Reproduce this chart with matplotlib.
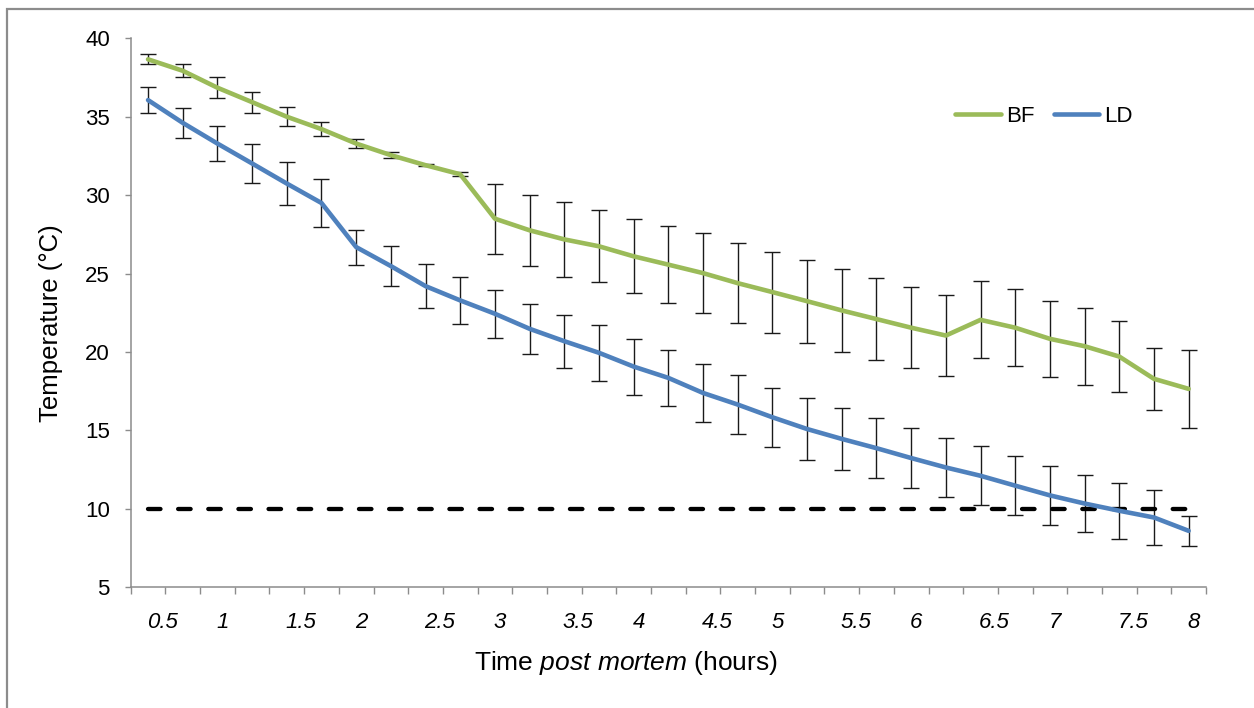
import matplotlib
matplotlib.use("Agg")
import matplotlib.pyplot as plt
from matplotlib.patches import Rectangle
from matplotlib.transforms import ScaledTranslation

# Sampling times (hours post mortem), every 15 minutes
hours = [0.5, 0.75, 1.0, 1.25, 1.5, 1.75, 2.0, 2.25, 2.5, 2.75, 3.0,
         3.25, 3.5, 3.75, 4.0, 4.25, 4.5, 4.75, 5.0, 5.25, 5.5, 5.75,
         6.0, 6.25, 6.5, 6.75, 7.0, 7.25, 7.5, 7.75, 8.0]

# BF muscle temperature (mean and SD, deg C)
bf_mean = [38.66, 37.93, 36.85, 35.93, 35.00, 34.21, 33.29, 32.55, 31.91,
           31.33, 28.50, 27.76, 27.18, 26.74, 26.10, 25.57, 25.03, 24.39,
           23.82, 23.24, 22.65, 22.10, 21.55, 21.05, 22.05, 21.55, 20.84,
           20.37, 19.71, 18.29, 17.65]
bf_err = [0.33, 0.40, 0.67, 0.67, 0.60, 0.47, 0.27, 0.18, 0.08, 0.13,
          2.22, 2.28, 2.40, 2.29, 2.36, 2.46, 2.53, 2.57, 2.58, 2.65,
          2.65, 2.60, 2.57, 2.58, 2.46, 2.46, 2.42, 2.45, 2.29, 1.97, 2.49]

# LD muscle temperature (mean and SD, deg C)
ld_mean = [36.06, 34.61, 33.29, 32.02, 30.74, 29.50, 26.69, 25.48, 24.20,
           23.29, 22.44, 21.48, 20.69, 19.95, 19.07, 18.35, 17.39, 16.65,
           15.84, 15.09, 14.46, 13.87, 13.24, 12.64, 12.11, 11.48, 10.86,
           10.34, 9.88, 9.45, 8.60]
ld_err = [0.85, 0.97, 1.12, 1.24, 1.38, 1.55, 1.12, 1.28, 1.40, 1.50,
          1.52, 1.60, 1.70, 1.77, 1.78, 1.76, 1.83, 1.87, 1.88, 1.96,
          1.98, 1.92, 1.90, 1.88, 1.87, 1.88, 1.87, 1.84, 1.80, 1.78, 0.95]

# 10 deg C reference temperature
threshold = 10
threshold_span = [0.5, 8.0]

tick_values = [0.5, 1, 1.5, 2, 2.5, 3, 3.5, 4, 4.5, 5, 5.5, 6, 6.5, 7, 7.5, 8]
tick_text = ["0.5", "1", "1.5", "2", "2.5", "3", "3.5", "4", "4.5", "5",
             "5.5", "6", "6.5", "7", "7.5", "8"]
y_ticks = [5, 10, 15, 20, 25, 30, 35, 40]

GREEN = "#9BBB59"
BLUE = "#4F81BD"
AXIS_GREY = "#8C8C8C"

plt.rcParams["font.family"] = ["Liberation Sans", "DejaVu Sans"]
plt.rcParams["mathtext.fontset"] = "custom"
plt.rcParams["mathtext.rm"] = "Liberation Sans"
plt.rcParams["mathtext.it"] = "Liberation Sans:italic"

W, H = 1254, 708
fig = plt.figure(figsize=(W / 100, H / 100), dpi=100)
ax = fig.add_axes([130.7 / W, 1 - 587.3 / H, (1206 - 130.7) / W, (587.3 - 38.3) / H])

step = hours[1] - hours[0]
ax.set_xlim(hours[0] - step / 2, hours[-1] + step / 2)
ax.set_ylim(5, 40)

ax.errorbar(hours, bf_mean, yerr=bf_err, fmt="none", ecolor="#1a1a1a",
            elinewidth=1.0, capsize=5.5, capthick=1.0, zorder=2)
ax.errorbar(hours, ld_mean, yerr=ld_err, fmt="none", ecolor="#1a1a1a",
            elinewidth=1.0, capsize=5.5, capthick=1.0, zorder=2)

ax.plot(threshold_span, [threshold, threshold], color="black", lw=3.1,
        dashes=(2.9, 4.1), dash_capstyle="round", zorder=2.5)

bf_line, = ax.plot(hours, bf_mean, color=GREEN, lw=3.3, zorder=3,
                   solid_capstyle="round", solid_joinstyle="round", label="BF")
ld_line, = ax.plot(hours, ld_mean, color=BLUE, lw=3.3, zorder=3,
                   solid_capstyle="round", solid_joinstyle="round", label="LD")

# Axes styling: only left and bottom spines, grey, with outward ticks
for side in ("top", "right"):
    ax.spines[side].set_visible(False)
for side in ("left", "bottom"):
    ax.spines[side].set_color(AXIS_GREY)
    ax.spines[side].set_linewidth(1.1)

ax.set_yticks(y_ticks)
ax.tick_params(axis="y", direction="out", length=4, width=1.0,
               color=AXIS_GREY, labelsize=16, pad=11, labelcolor="black")

# Category boundaries carry the tick marks on the time axis
boundaries = [h - step / 2 for h in hours] + [hours[-1] + step / 2]
ax.set_xticks(boundaries, minor=True)
ax.set_xticks(tick_values)
ax.set_xticklabels(tick_text, fontstyle="italic")
ax.tick_params(axis="x", which="minor", direction="out", length=5,
               width=1.0, color=AXIS_GREY)
ax.tick_params(axis="x", which="major", length=0, labelsize=16, pad=18,
               labelcolor="black")

for lab, txt in zip(ax.get_xticklabels(), tick_text):
    dx = 14.0 if "." in txt else 5.0
    lab.set_transform(lab.get_transform() +
                      ScaledTranslation(dx / 100, 0, fig.dpi_scale_trans))

# Axis titles
fig.text(626 / W, 1 - 663 / H, "Time $\\it{post\\ mortem}$ (hours)",
         ha="center", va="center", fontsize=19)
fig.text(51 / W, 1 - 323 / H, "Temperature (°C)", rotation=90,
         ha="center", va="center", fontsize=18.5)

leg = fig.legend(handles=[bf_line, ld_line], loc="center left",
                 bbox_to_anchor=(955 / W, 1 - 116 / H), ncol=2, frameon=False,
                 fontsize=16, handlelength=2.05, handletextpad=0.25,
                 columnspacing=0.85, borderpad=0, borderaxespad=0)

# Chart area border
fig.add_artist(Rectangle((7 / W, -0.05), 1.1, 1 - 9 / H + 0.05,
                         transform=fig.transFigure, fill=False,
                         edgecolor=AXIS_GREY, lw=1.6))

fig.savefig("out.png", dpi=100)
